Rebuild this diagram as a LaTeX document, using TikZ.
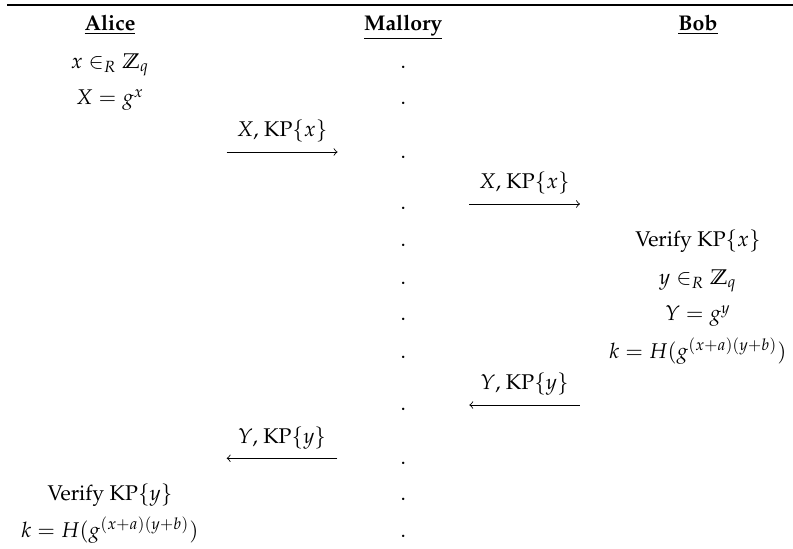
\documentclass[tikz,border=0pt]{standalone}
\usepackage[T1]{fontenc}
\usepackage{amsmath}
\usepackage{mathpazo}
\usepackage{amssymb}
\usepackage{xcolor}
\usepackage{tikz}
\usetikzlibrary{arrows, positioning, calc}

\begin{document}
\begin{tikzpicture}[
    party/.style={anchor=base, font=\bfseries},
    cell/.style={anchor=base},
    msg/.style={->, line width=0.4pt},
  ]
  % Protocol run: Alice, Mallory in the middle, Bob
  \def\xA{1.815}
  \def\xM{6.654}
  \def\xB{11.517}
  \useasboundingbox (0,0) rectangle (13.085,-9.043);
  % Top rule
  \coordinate (ruleL) at (0.12,-0.0825);
  \coordinate (ruleR) at (13.085,-0.0825);
  \draw[line width=0.8pt] (ruleL) -- (ruleR);
  % Party names
  \node[party] (alice) at (\xA,-0.5) {\underline{Alice}};
  \node[party] (mallory) at (\xM,-0.5) {\underline{Mallory}};
  \node[party] (bob) at (\xB,-0.5) {\underline{Bob}};
  % Alice's steps
  \node[cell] (ax) at (\xA,-1.125) {$x \in_R \mathbb{Z}_q$};
  \node[cell] (aX) at (\xA,-1.729) {$X = g^x$};
  \node[cell] (aver) at (\xA,-8.263) {Verify $\mathrm{KP}\{y\}$};
  \node[cell] (akey) at (\xA,-8.869) {$k = H(g^{(x+a)(y+b)})$};
  % Bob's steps
  \node[cell] (bver) at (\xB,-4.067) {Verify $\mathrm{KP}\{x\}$};
  \node[cell] (by) at (\xB,-4.689) {$y \in_R \mathbb{Z}_q$};
  \node[cell] (bY) at (\xB,-5.293) {$Y = g^y$};
  \node[cell] (bkey) at (\xB,-5.910) {$k = H(g^{(x+a)(y+b)})$};
  % Mallory's column
  \node[cell] (d1) at (\xM,-1.125) {.};
  \node[cell] (d2) at (\xM,-1.729) {.};
  \node[cell] (d3) at (\xM,-2.610) {.};
  \node[cell] (d4) at (\xM,-3.462) {.};
  \node[cell] (d5) at (\xM,-4.067) {.};
  \node[cell] (d6) at (\xM,-4.689) {.};
  \node[cell] (d7) at (\xM,-5.293) {.};
  \node[cell] (d8) at (\xM,-5.910) {.};
  \node[cell] (d9) at (\xM,-6.778) {.};
  \node[cell] (d10) at (\xM,-7.659) {.};
  \node[cell] (d11) at (\xM,-8.263) {.};
  \node[cell] (d12) at (\xM,-8.869) {.};
  % Messages
  \coordinate (m1s) at (3.741,-2.508);
  \coordinate (m1e) at (5.569,-2.508);
  \coordinate (m2s) at (7.739,-3.366);
  \coordinate (m2e) at (9.570,-3.366);
  \coordinate (m3s) at (9.570,-6.683);
  \coordinate (m3e) at (7.744,-6.683);
  \coordinate (m4s) at (5.565,-7.562);
  \coordinate (m4e) at (3.741,-7.562);
  \draw[msg] (m1s) -- (m1e);
  \draw[msg] (m2s) -- (m2e);
  \draw[msg] (m3s) -- (m3e);
  \draw[msg] (m4s) -- (m4e);
  \node[cell] (m1) at ($(m1s)!0.5!(m1e)+(0,0.25)$) {$X$, $\mathrm{KP}\{x\}$};
  \node[cell] (m2) at ($(m2s)!0.5!(m2e)+(0,0.25)$) {$X$, $\mathrm{KP}\{x\}$};
  \node[cell] (m3) at ($(m3s)!0.5!(m3e)+(0,0.25)$) {$Y$, $\mathrm{KP}\{y\}$};
  \node[cell] (m4) at ($(m4s)!0.5!(m4e)+(0,0.25)$) {$Y$, $\mathrm{KP}\{y\}$};
\end{tikzpicture}
\end{document}
